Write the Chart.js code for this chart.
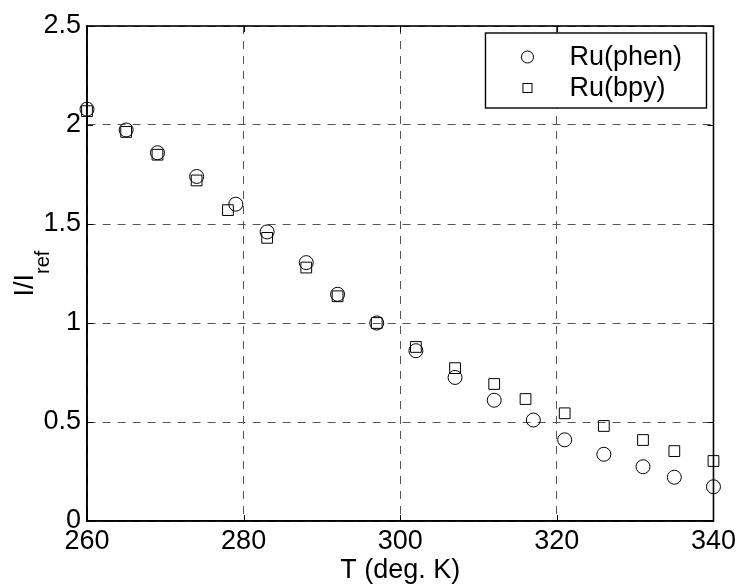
<!DOCTYPE html>
<html>
<head>
<meta charset="utf-8">
<script src="https://cdn.jsdelivr.net/npm/chart.js@4/dist/chart.umd.min.js"></script>
<style>
  html, body { margin: 0; padding: 0; background: #fff; }
  canvas { display: block; }
</style>
</head>
<body>
<canvas id="c" width="740" height="584"></canvas>
<script>
// ---- data ----
const seriesNames = ['Ru(phen)', 'Ru(bpy)'];
const tempPhen = [260, 265, 269, 274, 279, 283, 288, 292, 297, 302, 307, 312, 317, 321, 326, 331, 335, 340];
const ratioPhen = [2.08, 1.975, 1.86, 1.74, 1.60, 1.46, 1.305, 1.145, 1.0, 0.86, 0.725, 0.61, 0.51, 0.41, 0.337, 0.274, 0.221, 0.173];
const tempBpy = [260, 265, 269, 274, 278, 283, 288, 292, 297, 302, 307, 312, 316, 321, 326, 331, 335, 340];
const ratioBpy = [2.07, 1.965, 1.85, 1.72, 1.57, 1.43, 1.28, 1.135, 1.0, 0.879, 0.772, 0.692, 0.616, 0.544, 0.48, 0.409, 0.353, 0.303];
const xTickValues = [260, 280, 300, 320, 340];
const xTickLabels = ['260', '280', '300', '320', '340'];
const yTickValues = [0, 0.5, 1, 1.5, 2, 2.5];
const yTickLabels = ['0', '0.5', '1', '1.5', '2', '2.5'];
const xTitle = 'T (deg. K)';
const yTitleMain = 'I/I';
const yTitleSub = 'ref';

const FONT = '"Liberation Sans", Arial, Helvetica, sans-serif';
const FS = 27;

function toPoints(xs, ys) { return xs.map((x, i) => ({ x: x, y: ys[i] })); }

const boxPlugin = {
  id: 'matlabBox',
  afterDraw(chart) {
    const ctx = chart.ctx;
    const a = chart.chartArea;
    const xs = chart.scales.x, ys = chart.scales.y;
    ctx.save();
    // inner tick marks
    ctx.strokeStyle = '#000';
    ctx.lineWidth = 1;
    ctx.beginPath();
    xTickValues.forEach(v => {
      const px = Math.round(xs.getPixelForValue(v)) + 0.5;
      ctx.moveTo(px, a.bottom); ctx.lineTo(px, a.bottom - 6);
      ctx.moveTo(px, a.top); ctx.lineTo(px, a.top + 6);
    });
    yTickValues.forEach(v => {
      const py = Math.round(ys.getPixelForValue(v)) + 0.5;
      ctx.moveTo(a.left, py); ctx.lineTo(a.left + 6, py);
      ctx.moveTo(a.right, py); ctx.lineTo(a.right - 6, py);
    });
    ctx.stroke();
    // full axes box
    ctx.lineWidth = 1.6;
    ctx.strokeStyle = '#000';
    ctx.strokeRect(a.left, a.top, a.right - a.left, a.bottom - a.top);

    // legend box
    const lw = 221, lh = 75;
    const lx = a.right - 7 - lw, ly = a.top + 7;
    ctx.fillStyle = '#fff';
    ctx.fillRect(lx, ly, lw, lh);
    ctx.lineWidth = 1.4;
    ctx.strokeRect(lx, ly, lw, lh);
    const rows = [ly + 24, ly + 55];
    ctx.lineWidth = 1;
    ctx.strokeStyle = '#000';
    ctx.beginPath();
    ctx.arc(lx + 42, rows[0], 6, 0, Math.PI * 2);
    ctx.stroke();
    ctx.strokeRect(lx + 37.5, rows[1] - 4.5, 9, 9);
    ctx.fillStyle = '#000';
    ctx.font = FS + 'px ' + FONT;
    ctx.textAlign = 'left';
    ctx.textBaseline = 'middle';
    ctx.fillText(chart.data.datasets[0].label, lx + 84, rows[0] + 1);
    ctx.fillText(chart.data.datasets[1].label, lx + 84, rows[1] + 1);

    // y-axis title with subscript
    ctx.font = FS + 'px ' + FONT;
    const w1 = ctx.measureText(yTitleMain).width;
    ctx.font = '20px ' + FONT;
    const w2 = ctx.measureText(yTitleSub).width;
    const total = w1 + w2;
    const yc = (a.top + a.bottom) / 2;
    ctx.translate(0, yc + total / 2);
    ctx.rotate(-Math.PI / 2);
    ctx.textBaseline = 'alphabetic';
    ctx.font = FS + 'px ' + FONT;
    ctx.fillText(yTitleMain, 0, 33);
    ctx.font = '20px ' + FONT;
    ctx.fillText(yTitleSub, w1, 49);
    ctx.restore();
  }
};

new Chart(document.getElementById('c'), {
  type: 'scatter',
  data: {
    datasets: [
      {
        label: seriesNames[0],
        data: toPoints(tempPhen, ratioPhen),
        pointStyle: 'circle',
        pointRadius: 7,
        pointBorderWidth: 1,
        pointBorderColor: '#000',
        pointBackgroundColor: 'rgba(0,0,0,0)',
        showLine: false,
        clip: false
      },
      {
        label: seriesNames[1],
        data: toPoints(tempBpy, ratioBpy),
        pointStyle: 'rect',
        pointRadius: 7.6,
        pointBorderWidth: 1,
        pointBorderColor: '#000',
        pointBackgroundColor: 'rgba(0,0,0,0)',
        showLine: false,
        clip: false
      }
    ]
  },
  options: {
    responsive: false,
    animation: false,
    events: [],
    layout: { padding: { left: 0, right: 25, top: 26, bottom: 0 } },
    plugins: {
      legend: { display: false },
      tooltip: { enabled: false },
      title: { display: false }
    },
    scales: {
      x: {
        type: 'linear',
        min: 260, max: 340,
        afterBuildTicks: s => { s.ticks = xTickValues.map(v => ({ value: v })); },
        afterFit: s => { s.height = 63; },
        ticks: {
          color: '#000',
          font: { family: FONT, size: FS },
          padding: 4,
          maxRotation: 0,
          autoSkip: false,
          callback: v => xTickLabels[xTickValues.indexOf(v)] ?? ''
        },
        grid: { color: '#555', lineWidth: 1, drawTicks: false },
        border: { display: true, color: '#000', width: 1.6, dash: [8, 7] },
        title: {
          display: true,
          text: xTitle,
          color: '#000',
          font: { family: FONT, size: FS },
          padding: { top: 0, bottom: -3 }
        }
      },
      y: {
        type: 'linear',
        min: 0, max: 2.5,
        afterBuildTicks: s => { s.ticks = yTickValues.map(v => ({ value: v })); },
        afterFit: s => { s.width = 87; },
        ticks: {
          color: '#000',
          font: { family: FONT, size: FS },
          padding: 6,
          autoSkip: false,
          callback: v => yTickLabels[yTickValues.indexOf(v)] ?? ''
        },
        grid: { color: '#555', lineWidth: 1, drawTicks: false },
        border: { display: true, color: '#000', width: 1.6, dash: [8, 7] }
      }
    }
  },
  plugins: [boxPlugin]
});
</script>
</body>
</html>
